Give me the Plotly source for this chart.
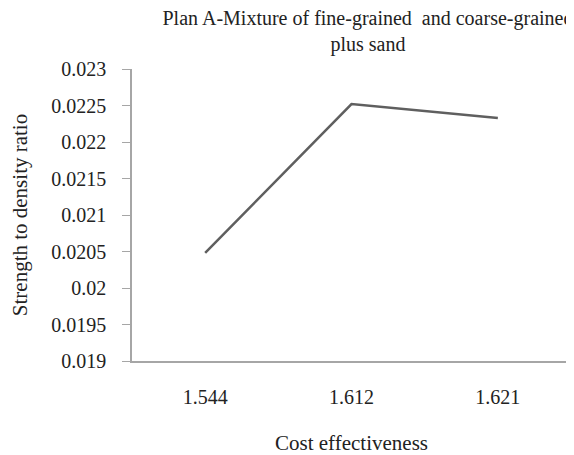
import plotly.graph_objects as go

# data
cost_effectiveness = ["1.544", "1.612", "1.621"]
strength_density = [0.02048, 0.02252, 0.02233]

y_ticks = [0.019, 0.0195, 0.02, 0.0205, 0.021, 0.0215, 0.022, 0.0225, 0.023]
y_tick_text = ["0.019", "0.0195", "0.02", "0.0205", "0.021", "0.0215", "0.022", "0.0225", "0.023"]

serif = "Liberation Serif"
tick_font = {"family": serif, "size": 20, "color": "#222222"}
text_font = {"family": serif, "size": 21, "color": "#222222"}
title_font = {"family": serif, "size": 20, "color": "#222222"}

fig = go.Figure()

fig.add_trace(go.Scatter(
    x=cost_effectiveness,
    y=strength_density,
    mode="lines",
    line={"color": "#5f5f5f", "width": 2.5},
    showlegend=False,
))

# page body has an 8px margin, so the figure is a bit smaller than the window
fig.update_layout(
    width=566,
    height=447,
    margin={"l": 124, "r": 3, "t": 60.5, "b": 94},
    paper_bgcolor="white",
    plot_bgcolor="white",
    font=text_font,
    title={
        "text": "Plan A-Mixture of fine-grained  and coarse-grained<br>plus sand",
        "xref": "container",
        "x": 0.636,
        "xanchor": "center",
        "yref": "container",
        "y": 0.962,
        "yanchor": "top",
        "font": title_font,
    },
)

fig.update_xaxes(
    type="category",
    range=[-0.5, 2.5],
    showline=True,
    linecolor="#a6a6a6",
    linewidth=1.5,
    showgrid=False,
    ticks="",
    tickfont=tick_font,
    ticklabelstandoff=17,
    title={"text": "Cost effectiveness", "standoff": 29, "font": text_font},
)

fig.update_yaxes(
    range=[0.019, 0.023],
    tickvals=y_ticks,
    ticktext=y_tick_text,
    showline=True,
    linecolor="#a6a6a6",
    linewidth=1.5,
    showgrid=False,
    ticks="outside",
    ticklen=8,
    tickcolor="#a6a6a6",
    tickfont=tick_font,
    ticklabelstandoff=12,
    title={"text": "Strength to density ratio", "standoff": 19, "font": text_font},
)

fig.write_html("out.html")
